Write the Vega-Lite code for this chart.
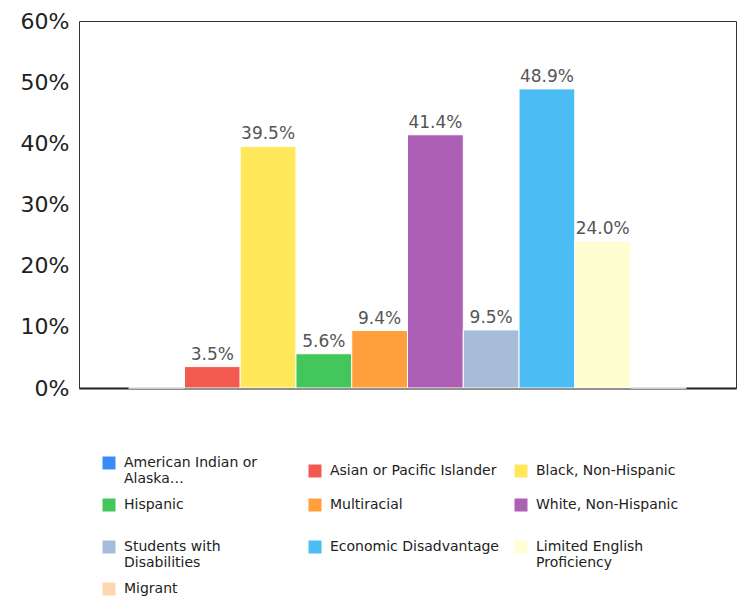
{
  "$schema": "https://vega.github.io/schema/vega-lite/v6.json",
  "width": 657,
  "height": 367,
  "autosize": {"type": "pad"},
  "padding": {"left": 20, "top": 10, "right": 4, "bottom": 0},
  "config": {"view": {"stroke": "#333", "strokeWidth": 1}, "font": "DejaVu Sans"},
  "data": {
    "values": [
      {"group": "American Indian or Alaska…", "value": 0},
      {"group": "Asian or Pacific Islander", "value": 0.035},
      {"group": "Black, Non-Hispanic", "value": 0.395},
      {"group": "Hispanic", "value": 0.056},
      {"group": "Multiracial", "value": 0.094},
      {"group": "White, Non-Hispanic", "value": 0.414},
      {"group": "Students with Disabilities", "value": 0.095},
      {"group": "Economic Disadvantage", "value": 0.489},
      {"group": "Limited English Proficiency", "value": 0.24},
      {"group": "Migrant", "value": 0}
    ]
  },
  "encoding": {
    "x": {
      "field": "group",
      "type": "nominal",
      "sort": null,
      "scale": {"paddingInner": 0, "paddingOuter": 0.89},
      "axis": {"labels": false, "ticks": false, "title": null, "domainColor": "#222", "domainWidth": 2}
    },
    "y": {
      "field": "value",
      "type": "quantitative",
      "scale": {"domain": [0, 0.6]},
      "axis": {
        "format": ".0%",
        "values": [0, 0.1, 0.2, 0.3, 0.4, 0.5, 0.6],
        "grid": false,
        "ticks": false,
        "domain": false,
        "title": null,
        "labelFontSize": 22,
        "labelColor": "#222",
        "labelPadding": 10
      }
    }
  },
  "layer": [
    {
      "mark": {"type": "bar", "stroke": "white", "strokeWidth": 1},
      "encoding": {
        "color": {
          "field": "group",
          "type": "nominal",
          "sort": null,
          "scale": {
            "range": ["#3a8cf5", "#f25a4f", "#ffe95a", "#44c75a", "#ffa03c", "#ad5fb5", "#a6bcd8", "#4bbcf4", "#fffdd2", "#ffd6ad"]
          },
          "legend": {
            "title": null,
            "orient": "none",
            "direction": "horizontal",
            "legendX": 23,
            "legendY": 435,
            "columns": 3,
            "gridAlign": "all",
            "columnPadding": 15,
            "rowPadding": 12,
            "symbolType": "square",
            "symbolSize": 169,
            "symbolStrokeWidth": 0,
            "labelFontSize": 14,
            "labelColor": "#222",
            "labelBaseline": "middle",
            "labelOffset": 8,
            "labelLimit": 300,
            "labelExpr": "datum.label == 'American Indian or Alaska…' ? ['American Indian or', 'Alaska…'] : datum.label == 'Students with Disabilities' ? ['Students with', 'Disabilities'] : datum.label == 'Limited English Proficiency' ? ['Limited English', 'Proficiency'] : datum.label"
          }
        }
      }
    },
    {
      "transform": [{"filter": "datum.value > 0"}],
      "mark": {"type": "text", "baseline": "bottom", "dy": -3, "fontSize": 17, "color": "#555"},
      "encoding": {"text": {"field": "value", "format": ".1%"}}
    }
  ]
}
